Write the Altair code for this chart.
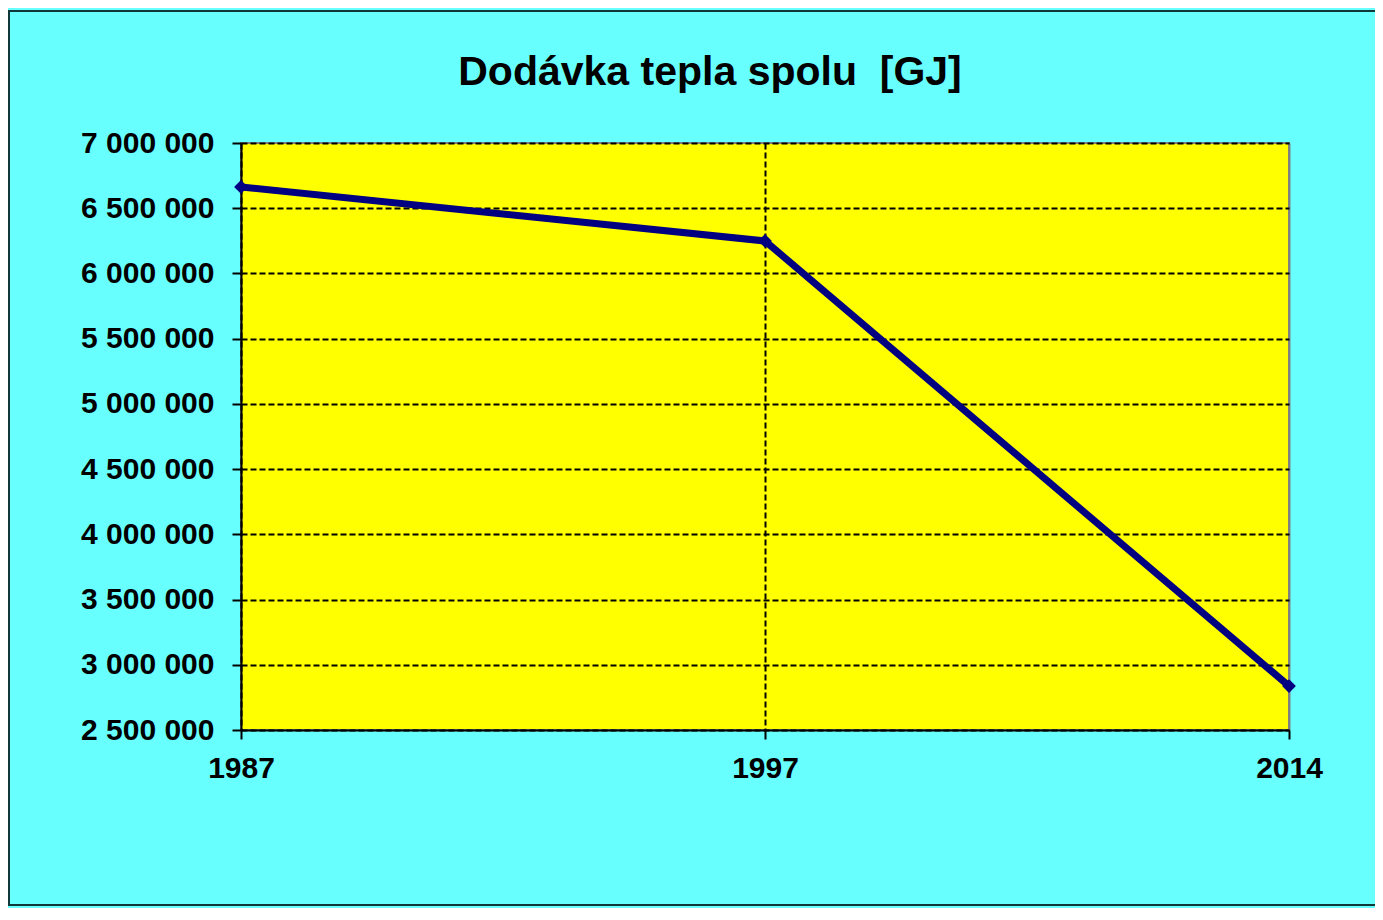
import altair as alt
import pandas as pd

years = ["1987", "1997", "2014"]
values = [6663000, 6249000, 2837000]
y_ticks = [2500000, 3000000, 3500000, 4000000, 4500000, 5000000, 5500000, 6000000, 6500000, 7000000]
title_text = "Dodávka tepla spolu \u00a0[GJ]"

df = pd.DataFrame({"Rok": years, "GJ": values})

FONT = "Liberation Sans"

x_enc = alt.X(
    "Rok:O",
    sort=years,
    scale=alt.Scale(type="point", padding=0),
    axis=alt.Axis(
        title=None, labelAngle=0, labelFont=FONT, labelFontSize=30, labelFontWeight="bold",
        labelColor="black", labelPadding=14, tickSize=9, tickColor="black", tickWidth=2,
        domainColor="black", domainWidth=2, grid=True,
        gridColor={"condition": {"test": "datum.value == '2014'", "value": "#808080"}, "value": "black"},
        gridDash={"condition": {"test": "datum.value == '2014'", "value": []}, "value": [6, 3]},
        gridWidth=2,
    ),
)
y_enc = alt.Y(
    "GJ:Q",
    scale=alt.Scale(domain=[2500000, 7000000], nice=False, zero=False),
    axis=alt.Axis(
        title=None, values=y_ticks, labelFont=FONT, labelFontSize=30, labelFontWeight="bold",
        labelColor="black", labelPadding=18, tickSize=9, tickColor="black", tickWidth=2,
        domainColor="black", domainWidth=2, grid=True, gridColor="black", gridDash=[6, 3],
        gridWidth=2,
        labelExpr="replace(format(datum.value, ','), regexp(',', 'g'), ' ')",
    ),
)

base = alt.Chart(df)
line = base.mark_line(color="#000080", strokeWidth=7).encode(x=x_enc, y=y_enc)
pts = base.mark_point(shape="diamond", filled=True, color="#000080", size=190, opacity=1).encode(x=x_enc, y=y_enc)
frame = alt.Chart(df).mark_rect(filled=False, stroke="#103838", strokeWidth=2).encode(
    x=alt.value(-232), x2=alt.value(1300), y=alt.value(-132), y2=alt.value(762)
)
title = alt.Chart(pd.DataFrame({"t": [title_text]})).mark_text(
    font=FONT, fontSize=41, fontWeight="bold", color="black", align="center", baseline="alphabetic"
).encode(text="t:N", x=alt.value(469), y=alt.value(-58))

chart = alt.layer(frame, line, pts, title).properties(
    width=1048,
    height=587,
    autosize=alt.AutoSizeParams(type="none"),
    padding={"left": 233, "top": 135, "right": 86, "bottom": 178},
    background="#68FFFF",
).configure_view(fill="#FFFF00", stroke="#808080", strokeWidth=2)

chart.save("out.html", embed_options={"renderer": "svg", "actions": False})
